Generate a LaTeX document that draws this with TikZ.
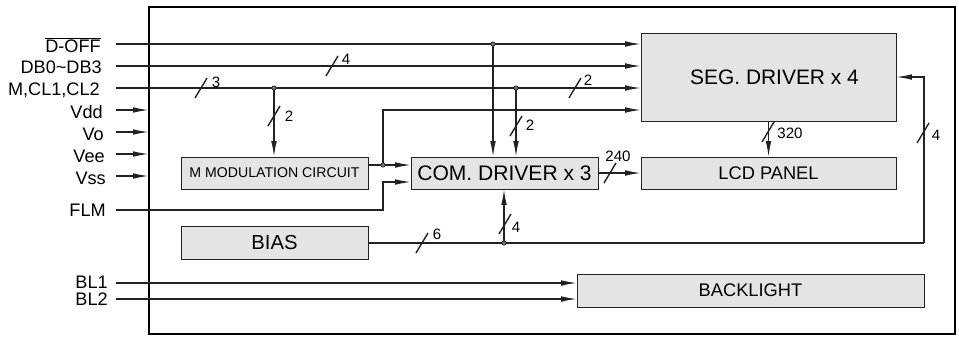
\documentclass[tikz,border=0pt]{standalone}
\usepackage{fontspec}
\setmainfont{Liberation Sans}
\usetikzlibrary{arrows.meta}
\definecolor{ln}{HTML}{222222}
\definecolor{bx}{HTML}{E4E4E4}
\begin{document}
\begin{tikzpicture}[x=0.75pt,y=-0.75pt,
 box/.style={draw=ln, fill=bx, line width=0.75pt, inner sep=0pt},
 wire/.style={draw=ln, line width=0.8pt},
 arr/.style={wire,-{Latex[length=11.5pt,width=4.2pt]}},
 lbl/.style={anchor=east,inner sep=0pt,text height=9.7pt,text depth=0pt,font=\fontsize{13.6}{14}\selectfont},
 num/.style={inner sep=0pt,font=\fontsize{11.3}{12}\selectfont},
 bus/.pic={\draw[draw=ln,line width=1.05pt] (-6,10) -- (6,-10);},
 jdot/.style={circle,draw=ln,fill=ln!60,line width=0.5pt,inner sep=0pt,minimum size=3.2pt}
]
\useasboundingbox (0,0) rectangle (959,337);
\node[draw=black,line width=1pt,minimum width=604.5pt,minimum height=245.25pt,inner sep=0pt] (frame) at (552,170.5) {};

\node[box,minimum width=191.25pt,minimum height=66pt,font=\fontsize{15.7}{16}\selectfont] (seg) at (768.5,77) {\hspace*{9pt}\raisebox{-2pt}{SEG. DRIVER x 4}};
\node[box,minimum width=191.25pt,minimum height=24pt,font=\fontsize{13.7}{14}\selectfont] (lcd) at (768.5,173) {LCD PANEL};
\node[box,minimum width=140.25pt,minimum height=24pt,font=\fontsize{15.8}{16}\selectfont] (com) at (504.5,173) {COM. DRIVER x 3};
\node[box,minimum width=140.25pt,minimum height=24pt,font=\fontsize{10.6}{11}\selectfont] (mmod) at (274.5,173) {M MODULATION CIRCUIT};
\node[box,minimum width=140.25pt,minimum height=24.75pt,font=\fontsize{15.2}{16}\selectfont] (bias) at (274.5,242.5) {BIAS};
\node[box,minimum width=260.25pt,minimum height=24.75pt,font=\fontsize{13.7}{14}\selectfont] (bl) at (750.5,290.5) {BACKLIGHT};

% left labels
\node[lbl] (lA) at (101,46) {$\overline{\hbox{D-OFF}}$};
\node[lbl] (lB) at (102,67.5) {DB0\char`~DB3};
\node[lbl] (lC) at (100,89.5) {M,CL1,CL2};
\node[lbl] (lD) at (103,112) {Vdd};
\node[lbl] (lE) at (104,134) {Vo};
\node[lbl] (lF) at (105,156) {Vee};
\node[lbl] (lG) at (106,178) {Vss};
\node[lbl] (lH) at (106,210) {FLM};
\node[lbl] (lI) at (108,282.5) {BL1};
\node[lbl] (lJ) at (108,299.5) {BL2};

\coordinate (s1) at (116,44);
\coordinate (s2) at (116,66);
\coordinate (s3) at (116,88);
\coordinate (s4) at (116,110);
\coordinate (s5) at (116,132);
\coordinate (s6) at (116,154);
\coordinate (s7) at (116,176);
\coordinate (s8) at (116,210);
\coordinate (s9) at (116,283);
\coordinate (s10) at (116,299);

\draw[arr] (s1) -- (s1 -| seg.west);
\draw[arr] (s2) -- (s2 -| seg.west);
\draw[arr] (s3) -- (s3 -| seg.west);
\draw[arr] (s4) -- (s4 -| frame.west);
\draw[arr] (s5) -- (s5 -| frame.west);
\draw[arr] (s6) -- (s6 -| frame.west);
\draw[arr] (s7) -- (s7 -| frame.west);
\draw[arr] (s9) -- (s9 -| bl.west);
\draw[arr] (s10) -- (s10 -| bl.west);

% junctions
\coordinate (j1) at (493,44);
\coordinate (j2) at (274,88);
\coordinate (j3) at (516,88);
\coordinate (j4) at (383,165);
\coordinate (j5) at (504,243);
\coordinate (k4) at (383,110);
\coordinate (k5) at (383,182);
\coordinate (k6) at (924,243);

\draw[arr] (j1) -- (j1 |- com.north);
\draw[arr] (j2) -- (j2 |- mmod.north);
\draw[arr] (j3) -- (j3 |- com.north);
\draw[arr] (j4 -| mmod.east) -- (j4 -| com.west);
\draw[arr] (j4) -- (k4) -- (k4 -| seg.west);
\draw[arr] (s8) -| (k5) -- (k5 -| com.west);
\draw[arr] (com.east) -- (lcd.west);
\draw[arr] (seg.south) -- (lcd.north);
\draw[wire] (bias.east |- k6) -- (k6);
\draw[arr] (k6) -- (k6 |- seg.east) -- (seg.east);
\draw[arr] (j5) -- (j5 |- com.south);

\foreach \j in {j1,j2,j3,j4,j5} \node[jdot] at (\j) {};

% bus marks
\pic at (201,88) {bus};   \node[num] at (216,82) {3};
\pic at (332,66) {bus};   \node[num] at (346,59) {4};
\pic at (575,88) {bus};   \node[num] at (588,80) {2};
\pic at (274,116) {bus};  \node[num] at (289,116) {2};
\pic at (516,126) {bus};  \node[num] at (530,125) {2};
\pic at (610,173) {bus};  \node[num] at (618,156) {240};
\pic at (768,132) {bus};  \node[num] at (790,133) {320};
\pic at (923,133) {bus};  \node[num] at (936,135) {4};
\pic at (422,243) {bus};  \node[num] at (437,234) {6};
\pic at (505,224) {bus};  \node[num] at (516,227) {4};
\end{tikzpicture}
\end{document}
